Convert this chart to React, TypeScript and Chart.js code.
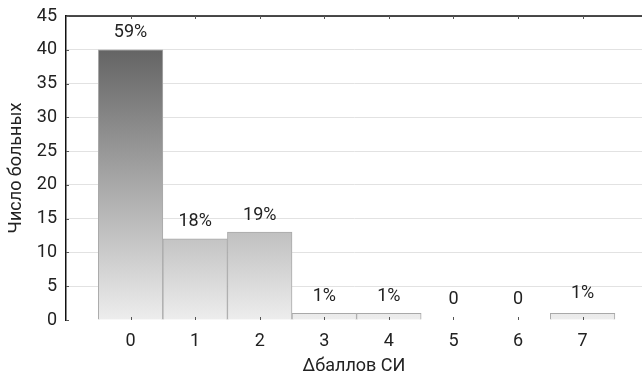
import React, { useEffect, useRef } from "react";
import { Chart, registerables } from "chart.js";

Chart.register(...registerables);

// Distribution of patients by change in SI score
const categories = [0, 1, 2, 3, 4, 5, 6, 7];
const patientCounts = [40, 12, 13, 1, 1, 0, 0, 1];
const shareLabels = ["59%", "18%", "19%", "1%", "1%", "0", "0", "1%"];
const yTicks = [0, 5, 10, 15, 20, 25, 30, 35, 40, 45];

const FONT = "Roboto, 'Liberation Sans', sans-serif";
const TEXT = "#222222";
const FS = 18;

const frame = {
  id: "frame",
  afterDatasetsDraw(chart: any) {
    const { ctx, chartArea, scales } = chart;
    const x = scales.x;
    const y = scales.y;
    ctx.save();
    // top border
    ctx.strokeStyle = "#111111";
    ctx.lineWidth = 1.5;
    ctx.beginPath();
    ctx.moveTo(chartArea.left, chartArea.top);
    ctx.lineTo(chartArea.right, chartArea.top);
    ctx.stroke();
    // inward tick marks at categories (top and bottom) and at y steps
    ctx.strokeStyle = "#555555";
    ctx.lineWidth = 1;
    ctx.beginPath();
    categories.forEach((c) => {
      const px = Math.round(x.getPixelForValue(c)) + 0.5;
      ctx.moveTo(px, chartArea.top);
      ctx.lineTo(px, chartArea.top + 3);
      ctx.moveTo(px, chartArea.bottom);
      ctx.lineTo(px, chartArea.bottom - 3);
    });
    yTicks.forEach((v) => {
      const py = Math.round(y.getPixelForValue(v)) + 0.5;
      ctx.moveTo(chartArea.left, py);
      ctx.lineTo(chartArea.left + 3, py);
    });
    ctx.stroke();
    // value labels above bars
    ctx.fillStyle = TEXT;
    ctx.font = `${FS}px ${FONT}`;
    ctx.textAlign = "center";
    ctx.textBaseline = "middle";
    const meta = chart.getDatasetMeta(0);
    meta.data.forEach((bar: any, i: number) => {
      const lift = patientCounts[i] === 0 ? 21 : i === 7 ? 20 : 17;
      ctx.fillText(shareLabels[i], bar.x, bar.y - lift);
    });
    ctx.restore();
  },
};

export default function App() {
  const ref = useRef<HTMLCanvasElement | null>(null);

  useEffect(() => {
    if (!ref.current) return;
    const chart = new Chart(ref.current, {
      type: "bar",
      data: {
        datasets: [
          {
            data: categories.map((c, i) => ({ x: c, y: patientCounts[i] })),
            backgroundColor: (context: any) => {
              const { chart } = context;
              const { ctx, chartArea, scales } = chart;
              if (!chartArea || !scales.y) return "#bbbbbb";
              const g = ctx.createLinearGradient(
                0,
                scales.y.getPixelForValue(40),
                0,
                scales.y.getPixelForValue(0)
              );
              g.addColorStop(0, "#646464");
              g.addColorStop(1, "#ededed");
              return g;
            },
            borderColor: "#a9a9a9",
            borderWidth: 1,
            borderSkipped: "bottom",
            barPercentage: 1,
            categoryPercentage: 1,
          },
        ],
      },
      options: {
        animation: false,
        responsive: true,
        maintainAspectRatio: false,
        layout: { padding: { top: 16, right: 0, left: 0, bottom: 0 } },
        plugins: {
          legend: { display: false },
          tooltip: { enabled: false },
        },
        scales: {
          x: {
            type: "linear",
            offset: false,
            min: -1,
            max: 7.92,
            afterBuildTicks: (s: any) => {
              s.ticks = categories.map((c) => ({ value: c }));
            },
            afterFit: (s: any) => {
              s.height = 52;
              s.paddingLeft = 0;
              s.paddingRight = 0;
            },
            grid: { display: false, drawTicks: false, offset: false },
            border: { display: false },
            ticks: {
              padding: 11,
              color: TEXT,
              font: { family: FONT, size: FS },
              callback: (v: any) => String(v),
            },
            title: {
              display: true,
              text: "Δбаллов СИ",
              color: TEXT,
              font: { family: FONT, size: FS },
              padding: { top: 0, bottom: -5 },
            },
          },
          y: {
            min: 0,
            max: 45,
            afterBuildTicks: (s: any) => {
              s.ticks = yTicks.map((v) => ({ value: v }));
            },
            afterFit: (s: any) => {
              s.width = 66;
              s.paddingTop = 0;
              s.paddingBottom = 0;
            },
            grid: {
              drawTicks: false,
              color: (c: any) => (c.tick && c.tick.value === 0 ? "rgba(0,0,0,0)" : "#e2e2e2"),
              lineWidth: 1,
            },
            border: { display: true, color: "#111111", width: 1.5 },
            ticks: {
              padding: 9,
              color: TEXT,
              font: { family: FONT, size: FS },
            },
            title: {
              display: true,
              text: "Число больных",
              color: TEXT,
              font: { family: FONT, size: FS },
              padding: { top: 6, bottom: 0 },
            },
          },
        },
      },
      plugins: [frame],
    } as any);
    return () => chart.destroy();
  }, []);

  return (
    <div
      style={{
        position: "fixed",
        left: 0,
        top: 0,
        width: 642,
        height: 372,
        background: "#ffffff",
      }}
    >
      <canvas ref={ref} />
    </div>
  );
}
